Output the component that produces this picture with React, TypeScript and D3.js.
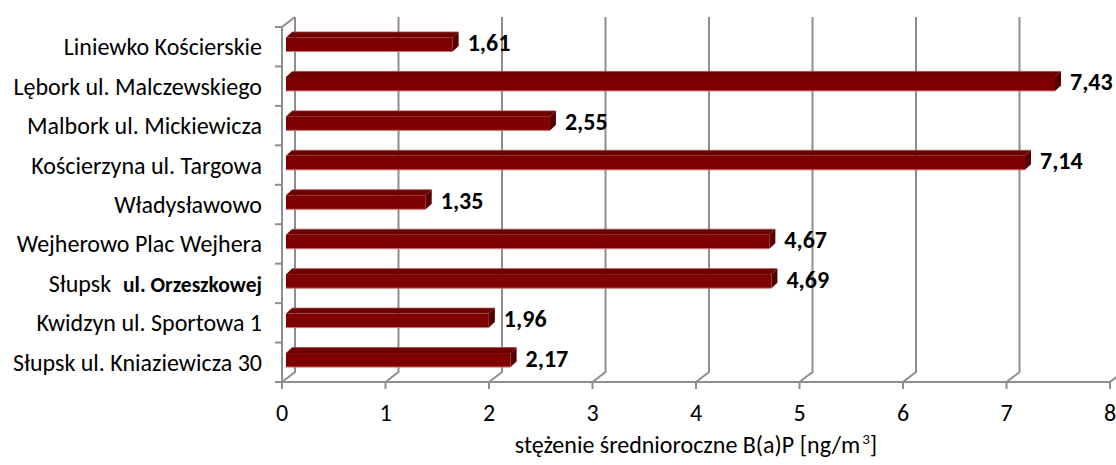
import { useEffect, useRef } from "react";
import * as d3 from "d3";

const categories = [
  "Liniewko Kościerskie",
  "Lębork ul. Malczewskiego",
  "Malbork ul. Mickiewicza",
  "Kościerzyna ul. Targowa",
  "Władysławowo",
  "Wejherowo Plac Wejhera",
  "Słupsk ul. Orzeszkowej",
  "Kwidzyn ul. Sportowa 1",
  "Słupsk ul. Kniaziewicza 30",
];
const values = [1.61, 7.43, 2.55, 7.14, 1.35, 4.67, 4.69, 1.96, 2.17];
const xTicks = [0, 1, 2, 3, 4, 5, 6, 7, 8];
const axisTitle = "stężenie średnioroczne B(a)P [ng/m";
const axisTitleSup = "3";

const FONT = "Carlito, Calibri, Lato, sans-serif";

const App = () => {
  const chartRef = useRef(null);

  useEffect(() => {
    document.body.style.margin = "0";
    if (!chartRef.current) return;
    const svg = d3.select(chartRef.current);
    svg.selectAll("*").remove();

    const width = 1116;
    const height = 465;
    svg.attr("viewBox", [0, 0, width, height]);

    // depth of the 3d wall
    const dx = 13;
    const dy = -10;

    const x = d3.scaleLinear().domain([0, 8]).range([282, 1110]);
    const y = d3.scaleBand().domain(categories).range([27, 382]);
    const top = y.range()[0];
    const bottom = y.range()[1];
    const grid = "#8e8e8e";

    // back wall gridlines with the diagonal to the floor
    svg
      .append("g")
      .selectAll("path")
      .data(xTicks)
      .join("path")
      .attr("fill", "none")
      .attr("stroke", grid)
      .attr("stroke-width", 2)
      .attr(
        "d",
        (d) =>
          `M${x(d) + dx},${top + dy}V${bottom + dy}L${x(d)},${bottom}`
      );

    // front left axis
    svg
      .append("path")
      .attr("fill", "none")
      .attr("stroke", grid)
      .attr("stroke-width", 2)
      .attr("d", `M${x(0) + dx},${top + dy}L${x(0)},${top}V${bottom}H${x(8)}`);

    // category ticks
    const bounds = categories.map((c) => y(c) as number).concat([bottom]);
    svg
      .append("g")
      .selectAll("line")
      .data(bounds)
      .join("line")
      .attr("x1", x(0) - 7)
      .attr("x2", x(0))
      .attr("y1", (d) => d)
      .attr("y2", (d) => d)
      .attr("stroke", grid)
      .attr("stroke-width", 2);

    // value ticks
    svg
      .append("g")
      .selectAll("line")
      .data(xTicks)
      .join("line")
      .attr("x1", (d) => x(d))
      .attr("x2", (d) => x(d))
      .attr("y1", bottom)
      .attr("y2", bottom + 7)
      .attr("stroke", grid)
      .attr("stroke-width", 2);

    // bars
    const bx = 4; // front face start inset
    const bdx = 6;
    const bdy = -5.5;
    const fy0 = 10.5;
    const fy1 = 24.5;
    const bars = svg
      .append("g")
      .selectAll("g")
      .data(values)
      .join("g")
      .attr("transform", (_, i) => `translate(0,${y(categories[i])})`);

    bars
      .append("path")
      .attr("fill", "#6e0000")
      .attr(
        "d",
        (d) =>
          `M${x(0) + bx},${fy0}L${x(0) + bx + bdx},${fy0 + bdy}H${x(d) + bx + bdx}L${x(d) + bx},${fy0}Z`
      );
    bars
      .append("path")
      .attr("fill", "#560000")
      .attr(
        "d",
        (d) =>
          `M${x(d) + bx},${fy0}L${x(d) + bx + bdx},${fy0 + bdy}V${fy1 + bdy}L${x(d) + bx},${fy1}Z`
      );
    bars
      .append("rect")
      .attr("x", x(0) + bx)
      .attr("y", fy0)
      .attr("width", (d) => x(d) - x(0))
      .attr("height", fy1 - fy0)
      .attr("fill", "#7f0000");
    bars
      .append("line")
      .attr("x1", x(0) + bx)
      .attr("x2", (d) => x(d) + bx)
      .attr("y1", fy1)
      .attr("y2", fy1)
      .attr("stroke", "#d07070")
      .attr("stroke-width", 1);
    bars
      .append("line")
      .attr("x1", x(0) + bx + bdx)
      .attr("x2", (d) => x(d) + bx + bdx)
      .attr("y1", fy0 + bdy)
      .attr("y2", fy0 + bdy)
      .attr("stroke", "#a04848")
      .attr("stroke-width", 0.8);

    // value labels
    bars
      .append("text")
      .attr("x", (d) => x(d) + bx + bdx + 9)
      .attr("y", 15.5 + 8.5)
      .attr("font-family", FONT)
      .attr("font-weight", "bold")
      .attr("font-size", 24)
      .attr("fill", "#000")
      .text((d) => d3.format(".2f")(d).replace(".", ","));

    // category labels
    const labels = svg
      .append("g")
      .attr("font-family", FONT)
      .attr("font-size", 24)
      .attr("fill", "#000")
      .attr("text-anchor", "end")
      .selectAll("text")
      .data(categories)
      .join("text")
      .attr("x", 262)
      .attr("y", (d) => (y(d) as number) + y.bandwidth() / 2 + 8.5);
    labels.each(function (d) {
      const t = d3.select(this);
      if (d === "Słupsk ul. Orzeszkowej") {
        t.append("tspan").text("Słupsk");
        t.append("tspan").attr("dx", 12).attr("font-weight", "bold").attr("font-size", 21.5).text("ul. Orzeszkowej");
      } else {
        t.text(d);
      }
    });

    // x tick labels
    svg
      .append("g")
      .attr("font-family", FONT)
      .attr("font-size", 24)
      .attr("text-anchor", "middle")
      .selectAll("text")
      .data(xTicks)
      .join("text")
      .attr("x", (d) => x(d))
      .attr("y", 421)
      .text((d) => d);

    // axis title
    const title = svg
      .append("text")
      .attr("x", (x(0) + x(8)) / 2)
      .attr("y", 453)
      .attr("text-anchor", "middle")
      .attr("font-family", FONT)
      .attr("font-size", 24);
    title.append("tspan").text(axisTitle);
    title.append("tspan").attr("font-size", 15).attr("dx", 2).attr("dy", -9).text(axisTitleSup);
    title.append("tspan").attr("dy", 9).text("]");
  }, []);

  return <svg ref={chartRef} width={1116} height={465} style={{ display: "block" }}></svg>;
};

export default App;
